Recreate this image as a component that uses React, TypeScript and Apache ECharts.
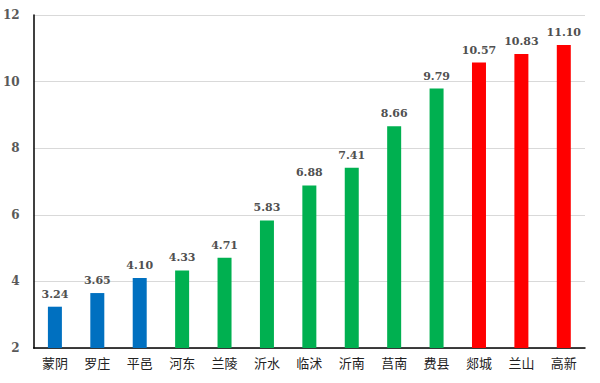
import React, { useEffect, useRef } from "react";
import * as echarts from "echarts";

const categories = ["蒙阴", "罗庄", "平邑", "河东", "兰陵", "沂水", "临沭", "沂南", "莒南", "费县", "郯城", "兰山", "高新"];
const values = [3.24, 3.65, 4.1, 4.33, 4.71, 5.83, 6.88, 7.41, 8.66, 9.79, 10.57, 10.83, 11.1];
const groups = ["blue", "blue", "blue", "green", "green", "green", "green", "green", "green", "green", "red", "red", "red"];
const colorMap: Record<string, string> = { blue: "#0070C0", green: "#00B050", red: "#FF0000" };

export default function App() {
  const ref = useRef<HTMLDivElement>(null);
  useEffect(() => {
    const chart = echarts.init(ref.current!, null, { renderer: "svg" });
    chart.setOption({
      animation: false,
      grid: { left: 32, right: 15, top: 15, bottom: 35 },
      xAxis: {
        type: "category",
        data: categories,
        axisLine: { lineStyle: { color: "#000", width: 1.5 } },
        axisTick: { show: false },
        axisLabel: { color: "#222", fontSize: 13, fontFamily: "Noto Sans CJK SC", margin: 8 },
      },
      yAxis: {
        type: "value",
        min: 2,
        max: 12,
        interval: 2,
        axisLine: { show: true, lineStyle: { color: "#000", width: 1.5 } },
        axisTick: { show: false },
        splitLine: { lineStyle: { color: "#d9d9d9" } },
        axisLabel: { color: "#595959", fontSize: 12, fontFamily: "DejaVu Serif", fontWeight: "bold", margin: 14 },
      },
      series: [
        {
          type: "bar",
          barWidth: 14,
          data: values.map((v, i) => ({ value: v, itemStyle: { color: colorMap[groups[i]] } })),
          label: {
            show: true,
            position: "top",
            distance: 7,
            color: "#505050",
            fontSize: 11,
            fontFamily: "DejaVu Serif",
            fontWeight: "bold",
            formatter: (p: any) => p.value.toFixed(2),
          },
        },
      ],
    });
    return () => chart.dispose();
  }, []);
  return <div ref={ref} style={{ width: 600, height: 383, position: "absolute", left: 0, top: 0 }} />;
}
